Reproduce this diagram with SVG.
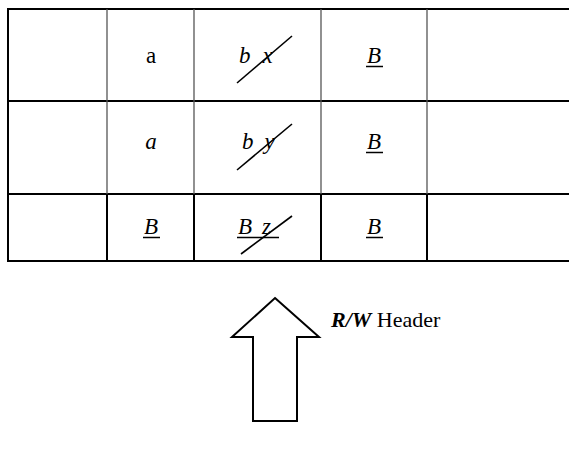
<svg xmlns="http://www.w3.org/2000/svg" width="569" height="451" viewBox="0 0 569 451">
  <style>
    .t { font-family: "Liberation Serif", "Times New Roman", "DejaVu Serif", serif; font-size: 23px; fill: #000; }
    .lbl { font-size: 22px; }
    .i { font-style: italic; }
    .mid { text-anchor: middle; }
    .rule { stroke: #000; stroke-width: 2; fill: none; }
    .thin { stroke: #555; stroke-width: 1.3; fill: none; }
    .ul { stroke: #000; stroke-width: 1.5; fill: none; }
    .strike { stroke: #000; stroke-width: 1.6; fill: none; }
    .arrow { stroke: #000; stroke-width: 2; fill: #fff; stroke-linejoin: miter; }
  </style>

  <!-- tape grid -->
  <g id="grid">
    <line class="rule" x1="8" y1="9" x2="569" y2="9"/>
    <line class="rule" x1="8" y1="101" x2="569" y2="101"/>
    <line class="rule" x1="8" y1="194" x2="569" y2="194"/>
    <line class="rule" x1="8" y1="261" x2="569" y2="261"/>
    <line class="rule" x1="8" y1="8" x2="8" y2="262"/>
    <!-- upper two rows: light separators -->
    <line class="thin" x1="107" y1="9" x2="107" y2="194"/>
    <line class="thin" x1="194" y1="9" x2="194" y2="194"/>
    <line class="thin" x1="321" y1="9" x2="321" y2="194"/>
    <line class="thin" x1="427" y1="9" x2="427" y2="194"/>
    <!-- bottom row: heavy separators -->
    <line class="rule" x1="107" y1="194" x2="107" y2="261"/>
    <line class="rule" x1="194" y1="194" x2="194" y2="261"/>
    <line class="rule" x1="321" y1="194" x2="321" y2="261"/>
    <line class="rule" x1="427" y1="194" x2="427" y2="261"/>
  </g>

  <!-- row 1 -->
  <g id="r1c2"><text class="t mid" x="151" y="63">a</text></g>
  <g id="r1c3">
    <text class="t i" x="239" y="63">b<tspan dx="12">x</tspan></text>
    <line class="strike" x1="237" y1="83" x2="292" y2="36"/>
  </g>
  <g id="r1c4">
    <text class="t i mid" x="374" y="63">B</text>
    <line class="ul" x1="366" y1="66.5" x2="383" y2="66.5"/>
  </g>

  <!-- row 2 -->
  <g id="r2c2"><text class="t i mid" x="151" y="149">a</text></g>
  <g id="r2c3">
    <text class="t i" x="242" y="149">b<tspan dx="11">y</tspan></text>
    <line class="strike" x1="237" y1="170" x2="292" y2="124"/>
  </g>
  <g id="r2c4">
    <text class="t i mid" x="374" y="149">B</text>
    <line class="ul" x1="366" y1="152.5" x2="383" y2="152.5"/>
  </g>

  <!-- row 3 -->
  <g id="r3c2">
    <text class="t i mid" x="151" y="234">B</text>
    <line class="ul" x1="143" y1="237.5" x2="160" y2="237.5"/>
  </g>
  <g id="r3c3">
    <text class="t i" x="238" y="234">B<tspan dx="10">z</tspan></text>
    <line class="ul" x1="237" y1="237.5" x2="279" y2="237.5"/>
    <line class="strike" x1="241" y1="254" x2="292" y2="216"/>
  </g>
  <g id="r3c4">
    <text class="t i mid" x="374" y="234">B</text>
    <line class="ul" x1="366" y1="237.5" x2="383" y2="237.5"/>
  </g>

  <!-- read/write head -->
  <g id="head">
    <polygon class="arrow" points="275,298 319,337 297,337 297,421 253,421 253,337 232,337"/>
    <text class="t lbl" x="331" y="327"><tspan font-weight="bold" font-style="italic">R/W</tspan> Header</text>
  </g>
</svg>
